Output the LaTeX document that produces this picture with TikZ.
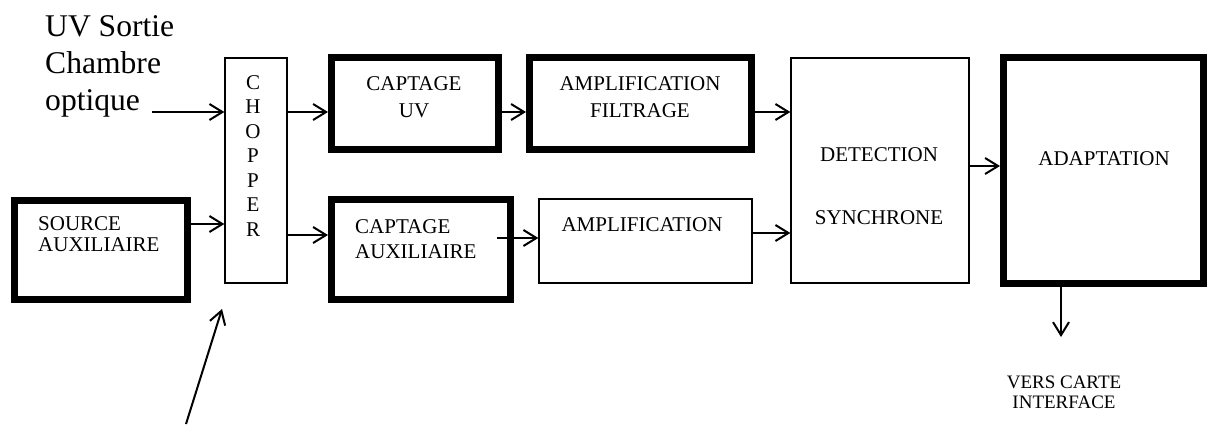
\documentclass[tikz,border=0pt]{standalone}
\usepackage{fontspec}
\setmainfont{Liberation Serif}
\usetikzlibrary{arrows.meta}
\tikzset{
  thickbox/.style={draw, line width=7pt, minimum width=#1, inner sep=0pt},
  thinbox/.style={draw, line width=1.3pt, inner sep=0pt},
  boxtxt/.style={inner sep=0pt, anchor=base, font=\fontsize{21}{27}\selectfont},
  arr/.style={line width=2pt, -{Straight Barb[length=13pt, width=16pt, line width=2pt]}},
}
\begin{document}
\begin{tikzpicture}[x=1pt,y=-1pt]
\path[use as bounding box] (0,0) rectangle (1207,424);

% boxes
\node[thickbox=173pt, minimum height=99pt] (src) at (101,250) {};
\node[thinbox, minimum width=62pt, minimum height=225pt] (chop) at (256,170.5) {};
\node[thickbox=167pt, minimum height=92pt] (capuv) at (415,103.5) {};
\node[thickbox=222pt, minimum height=92pt] (amplf) at (640.5,103.5) {};
\node[thickbox=179pt, minimum height=100pt] (capaux) at (421,249.5) {};
\node[thinbox, minimum width=213pt, minimum height=84pt] (ampl) at (645.5,241) {};
\node[thinbox, minimum width=178pt, minimum height=225pt] (det) at (880,170.5) {};
\node[thickbox=200pt, minimum height=226pt] (adapt) at (1103.5,170.5) {};

% texts (base anchor = baseline of the last line)
\node[inner sep=0pt, anchor=base west, align=left,
      font=\fontsize{31.6}{37}\selectfont] (uvtxt) at (45,110.5)
      {UV Sortie\\Chambre\\optique};
\node[boxtxt, anchor=base west, align=left, font=\fontsize{21}{20.5}\selectfont]
      (srctxt) at (38,251) {SOURCE\\AUXILIAIRE};
\node[boxtxt, align=center, font=\fontsize{21}{24.5}\selectfont]
      (choptxt) at (253,236) {C\\H\\O\\P\\P\\E\\R};
\node[boxtxt, align=center] (capuvtxt) at (414,117) {CAPTAGE\\UV};
\node[boxtxt, align=center] (amplftxt) at (640,117) {AMPLIFICATION\\FILTRAGE};
\node[boxtxt, anchor=base west, align=left, font=\fontsize{21}{25}\selectfont]
      (capauxtxt) at (355,258) {CAPTAGE\\AUXILIAIRE};
\node[boxtxt] (ampltxt) at (642,231) {AMPLIFICATION};
\node[boxtxt, align=center, font=\fontsize{21}{63}\selectfont]
      (dettxt) at (879,224) {DETECTION\\SYNCHRONE};
\node[boxtxt] (adapttxt) at (1104,165) {ADAPTATION};
\node[boxtxt, align=center, font=\fontsize{19}{20}\selectfont]
      (verstxt) at (1064,408) {VERS CARTE\\INTERFACE};

% free ends
\coordinate (uvin) at (152,112);
\coordinate (vers) at (1061,337);
\coordinate (motor) at (186,424);
\coordinate (motortip) at (222,309);

% connectors
\draw[arr] (uvin) -- (uvin -| chop.west);
\draw[arr] (src.east |- 0,224) -- (chop.west |- 0,224);
\draw[arr] (chop.east |- 0,112) -- (capuv.west |- 0,112);
\draw[arr] (chop.east |- 0,235) -- (capaux.west |- 0,235);
\draw[arr] (capuv.east |- 0,112) -- (amplf.west |- 0,112);
\draw[arr] (amplf.east |- 0,112) -- (det.west |- 0,112);
\draw[arr] ([xshift=-17pt]capaux.east |- 0,238) -- (ampl.west |- 0,238);
\draw[arr] (ampl.east |- 0,233) -- (det.west |- 0,233);
\draw[arr] (det.east |- 0,166) -- (adapt.west |- 0,166);
\draw[arr] (adapt.south -| vers) -- (vers);
\draw[arr] (motor) -- (motortip);
\end{tikzpicture}
\end{document}
